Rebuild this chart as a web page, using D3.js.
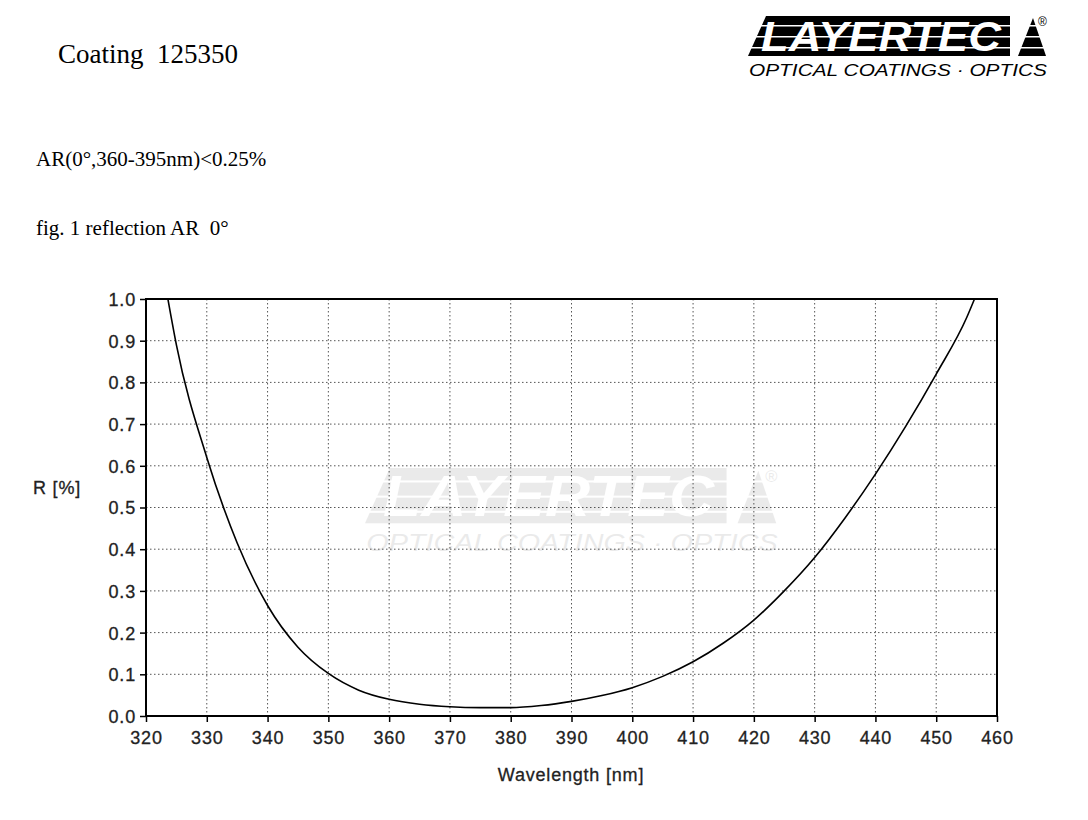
<!DOCTYPE html>
<html><head><meta charset="utf-8">
<script src="https://cdn.jsdelivr.net/npm/d3@7"></script>
<style>body{margin:0;background:#fff} text{white-space:pre}</style>
</head><body>
<svg id="c" width="1088" height="820"></svg>
<script>
// values
const wavelengths = [323.6, 325, 330, 335, 340, 345, 350, 355, 360, 365, 370, 375, 380, 385, 390, 395, 400, 405, 410, 415, 420, 425, 430, 435, 440, 445, 450, 455, 456.3]
const reflection = [1.0, 0.89, 0.62, 0.415, 0.265, 0.165, 0.102, 0.062, 0.040, 0.028, 0.022, 0.020, 0.020, 0.025, 0.035, 0.049, 0.068, 0.095, 0.130, 0.175, 0.230, 0.300, 0.380, 0.475, 0.580, 0.695, 0.820, 0.955, 1.0]
const xTicks = d3.range(320, 461, 10)
const yTicks = d3.range(0, 1.01, 0.1)

const svg = d3.select('#c')
const serif = '"Liberation Serif", "Times New Roman", serif'
const sans = '"Liberation Sans", Arial, sans-serif'

// header texts
svg.append('text').attr('x', 58).attr('y', 63).attr('font-family', serif).attr('font-size', 27).text('Coating  125350')
svg.append('text').attr('x', 36).attr('y', 166).attr('font-family', serif).attr('font-size', 21).text('AR(0°,360-395nm)<0.25%')
svg.append('text').attr('x', 36).attr('y', 235).attr('font-family', serif).attr('font-size', 21).text('fig. 1 reflection AR  0°')

// logo
function logo(g, color, textColor) {
    g.append('path').attr('d', 'M18,0 L262,0 L262,40 L0,40 Z').attr('fill', color)
    g.append('path').attr('d', 'M270,40 L298,40 L285,2 Z').attr('fill', color)
    g.append('text').attr('x', 133).attr('y', 35).attr('text-anchor', 'middle')
        .attr('font-family', sans).attr('font-weight', 'bold').attr('font-style', 'italic')
        .attr('font-size', 42).attr('textLength', 240).attr('lengthAdjust', 'spacingAndGlyphs')
        .attr('fill', textColor).text('LAYERTEC')
    ;[9, 20, 31].forEach(y => g.append('rect').attr('x', 0).attr('y', y).attr('width', 300).attr('height', 1.5).attr('fill', textColor))
    g.append('text').attr('x', 150).attr('y', 60).attr('text-anchor', 'middle')
        .attr('font-family', sans).attr('font-style', 'italic').attr('font-size', 17)
        .attr('textLength', 298).attr('lengthAdjust', 'spacingAndGlyphs')
        .attr('fill', color).text('OPTICAL COATINGS · OPTICS')
    g.append('text').attr('x', 290).attr('y', 10).attr('font-family', sans).attr('font-size', 12).attr('fill', color).text('®')
}
logo(svg.append('g').attr('transform', 'translate(748,16)'), '#000', '#fff')

const m = { left: 146, right: 997, top: 299, bottom: 716 }
const x = d3.scaleLinear().domain([320, 460]).range([m.left, m.right])
const y = d3.scaleLinear().domain([0, 1]).range([m.bottom, m.top])

// watermark
const wm = svg.append('g').attr('transform', 'translate(365,468) scale(1.38)').attr('opacity', 0.13)
logo(wm, '#666', '#fff')

// grid
svg.append('g').selectAll('line').data(xTicks.slice(1, -1)).join('line')
    .attr('x1', d => x(d)).attr('x2', d => x(d)).attr('y1', m.top).attr('y2', m.bottom)
    .attr('stroke', '#555').attr('stroke-dasharray', '1.5,2.5')
svg.append('g').selectAll('line').data(yTicks.slice(1, -1)).join('line')
    .attr('x1', m.left).attr('x2', m.right).attr('y1', d => y(d)).attr('y2', d => y(d))
    .attr('stroke', '#555').attr('stroke-dasharray', '1.5,2.5')

// axes
const xa = svg.append('g').attr('transform', `translate(0,${m.bottom})`)
    .call(d3.axisBottom(x).tickValues(xTicks).tickSize(6).tickFormat(d3.format('d')))
const ya = svg.append('g').attr('transform', `translate(${m.left},0)`)
    .call(d3.axisLeft(y).tickValues(yTicks).tickSize(6).tickFormat(d3.format('.1f')))
;[xa, ya].forEach(a => {
    a.select('.domain').remove()
    a.selectAll('line').attr('stroke', '#000').attr('stroke-width', 1.5)
    a.selectAll('text').attr('font-family', sans).attr('font-size', 18).attr('letter-spacing', 0.8)
        .attr('fill', '#222').attr('stroke', '#222').attr('stroke-width', 0.3)
})
xa.selectAll('text').attr('dy', '1.05em')
ya.selectAll('text').attr('dy', '0.36em').attr('x', -10)

svg.append('rect').attr('x', m.left).attr('y', m.top).attr('width', m.right - m.left).attr('height', m.bottom - m.top)
    .attr('fill', 'none').attr('stroke', '#000').attr('stroke-width', 2)

const lab = { 'font-family': sans, 'font-size': 18, 'letter-spacing': 0.8, fill: '#222', stroke: '#222', 'stroke-width': 0.3 }
const t1 = svg.append('text').attr('x', 33).attr('y', 494).text('R [%]')
const t2 = svg.append('text').attr('x', 571).attr('y', 781).attr('text-anchor', 'middle').text('Wavelength [nm]')
;[t1, t2].forEach(t => Object.entries(lab).forEach(([k, v]) => t.attr(k, v)))

// curve
svg.append('path').datum(d3.zip(wavelengths, reflection))
    .attr('d', d3.line().x(d => x(d[0])).y(d => y(d[1])).curve(d3.curveMonotoneX))
    .attr('fill', 'none').attr('stroke', '#000').attr('stroke-width', 1.6)
</script>
</body></html>
